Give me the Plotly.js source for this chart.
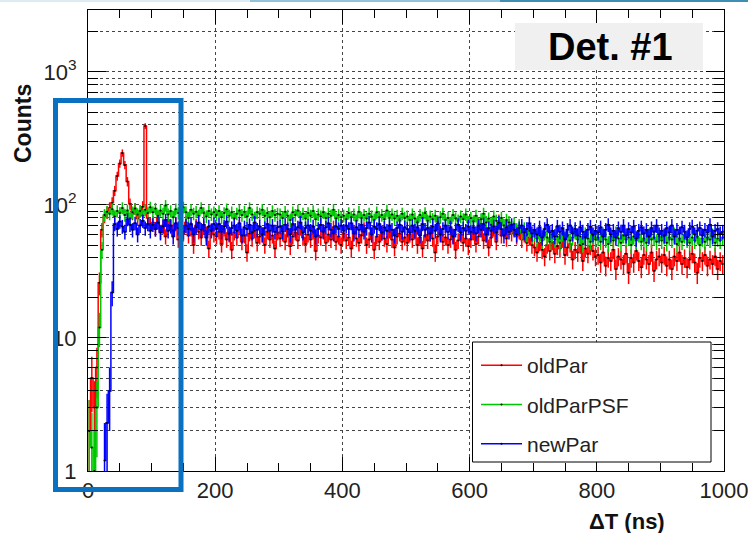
<!DOCTYPE html>
<html>
<head>
<meta charset="utf-8">
<script src="https://cdn.plot.ly/plotly-3.0.1.min.js"></script>
<style>html,body{margin:0;padding:0;background:#fff;}#chart{width:748px;height:533px;}</style>
</head>
<body>
<div id="chart"></div>
<script>
// Histogram bin width (ns); values are counts per bin
const binWidth = 4;
const seriesNames = ["oldPar", "oldParPSF", "newPar"];
const yTickVals = [1, 10, 100, 1000];
const yTickText = ["1", "10", "10<sup>2</sup>", "10<sup>3</sup>"];
const yMinorVals = [2,3,4,5,6,7,8,9,20,30,40,50,60,70,80,90,200,300,400,500,600,700,800,900,2000];

const oldPar = [
  2,5,3,6,26,65,82,88,95,104,128,165,205,246,200,150,102,86,94,79,90,97,392,80,72,
  74,66,81,63,70,58,77,69,64,72,55,68,61,74,59,66,50,70,63,57,68,61,47,65,60,
  58,63,51,66,55,60,46,62,57,69,53,59,44,61,56,64,52,58,60,50,63,55,59,47,62,
  56,61,53,65,49,58,62,54,67,57,51,60,55,63,45,59,57,64,52,60,55,68,53,58,50,
  61,54,57,47,63,56,52,59,66,50,55,60,46,58,53,62,56,51,64,55,48,58,61,53,57,
  52,60,55,63,50,57,47,59,54,61,56,44,58,62,53,57,50,55,59,46,54,60,52,56,49,
  55,62,51,58,72,54,60,48,57,66,53,76,59,64,56,70,61,67,58,63,55,60,52,57,50,
  48,44,52,46,41,50,45,53,43,49,47,55,42,48,51,39,46,44,50,38,47,43,49,45,41,
  42,37,44,35,40,38,46,33,41,39,36,43,31,40,37,45,38,34,42,39,36,44,32,39,41,
  37,42,35,39,33,41,38,44,36,40,34,39,43,37,31,40,38,42,35,39,36,41,33,38,36
];
const oldParPSF = [
  2,1.5,1,3,12,46,84,89,86,93,82,90,87,95,84,91,79,88,94,85,90,83,92,87,96,
  88,94,83,91,86,99,85,90,81,93,87,84,96,88,80,92,86,89,83,95,87,82,90,85,88,
  84,90,81,87,93,83,88,79,86,91,84,89,82,95,85,80,88,86,92,83,87,81,90,84,86,
  85,80,89,83,77,88,84,91,81,86,79,87,83,90,78,85,82,88,80,86,83,92,79,84,81,
  83,78,87,81,85,76,89,80,84,79,86,82,77,88,81,84,78,91,80,85,79,83,76,86,80,
  82,77,85,79,74,84,80,87,76,82,78,83,75,81,86,77,80,73,84,79,76,82,78,85,74,
  80,75,83,72,78,86,74,79,71,82,76,73,80,70,77,74,68,72,65,70,62,66,60,64,58,
  61,56,59,54,62,57,53,60,55,58,52,61,56,59,54,57,63,55,58,51,60,56,53,59,55,
  57,53,60,55,51,58,54,61,56,52,59,55,57,50,58,54,60,53,56,52,59,55,57,53,58,
  54,58,52,57,55,60,51,56,53,59,55,52,57,54,58,50,56,53,57,55,59,52,56,54,57
];
const newPar = [
  null,null,null,null,null,null,1.2,2.3,4,22,72,66,75,69,63,78,71,65,73,60,70,76,67,72,64,
  71,66,74,62,69,77,64,70,58,73,67,75,63,70,66,72,60,68,74,65,71,57,69,64,72,
  66,72,63,69,75,61,67,70,64,73,59,68,66,71,62,74,65,69,60,67,72,64,70,63,68,
  69,63,71,66,60,72,65,68,74,62,67,70,64,69,58,66,71,63,68,73,65,61,69,66,70,
  64,70,66,73,61,68,65,71,63,67,74,60,69,66,72,62,68,64,70,65,59,67,71,63,68,
  66,62,70,64,68,59,72,65,67,61,69,64,73,60,66,70,63,68,58,65,71,62,67,64,69,
  63,68,61,70,65,72,60,67,64,69,62,74,66,59,68,63,71,65,60,67,70,62,66,73,61,
  65,60,68,57,66,71,62,64,58,69,63,67,55,65,70,61,66,59,68,63,57,65,69,60,64,
  62,68,58,65,71,60,64,57,67,63,70,59,66,62,69,56,64,68,61,65,58,67,63,70,60,
  64,59,67,62,70,58,65,61,68,63,57,66,69,60,64,67,59,65,62,71,58,64,66,61,63
];

const binCenters = oldPar.map((_, i) => i * binWidth + binWidth / 2);
const colors = ["#ff0000", "#00c800", "#0000ff"];
const FONT = "Liberation Sans, Arial, Helvetica, sans-serif";

function makeTrace(vals, name, color, group) {
  return {
    x: binCenters, y: vals, name: name, type: "scatter", mode: "lines+markers",
    line: {color: color, width: 1.5, shape: "hvh"},
    marker: {color: "#000", size: 2},
    error_y: {type: "data", array: vals.map(v => v == null ? null : Math.sqrt(v)), color: color, thickness: 1.5, width: 0},
    connectgaps: false, legendgroup: group
  };
}

const traces = [
  makeTrace(oldPar, seriesNames[0], colors[0], "g1"),
  makeTrace(oldParPSF, seriesNames[1], colors[1], "g2"),
  makeTrace(newPar, seriesNames[2], colors[2], "g3")
];

// pixel -> paper helpers for decorations (plot area 88..724 x, 10..471 y)
const px = v => (v - 88) / 636;
const py = v => (471 - v) / 461;

const layout = {
  width: 748, height: 533,
  margin: {l: 88, r: 24, t: 10, b: 62},
  paper_bgcolor: "#fff", plot_bgcolor: "#fff",
  font: {family: FONT, color: "#111", size: 22},
  showlegend: true,
  legend: {
    x: px(476), y: py(345), xanchor: "left", yanchor: "top",
    bgcolor: "rgba(0,0,0,0)", borderwidth: 0,
    font: {family: FONT, size: 21, color: "#222"},
    itemwidth: 41, tracegroupgap: 9
  },
  xaxis: {
    range: [0, 1000], showline: true, linecolor: "#000", linewidth: 1, mirror: "ticks",
    ticks: "inside", ticklen: 14, tickcolor: "#000", dtick: 200, tick0: 0,
    showgrid: true, gridcolor: "#444", griddash: "dot", gridwidth: 1, zeroline: false,
    tickfont: {family: FONT, size: 22, color: "#222"}, ticklabelstandoff: 0, ticklabeloverflow: "allow",
    minor: {dtick: 50, ticks: "inside", ticklen: 8, tickcolor: "#000", showgrid: false}
  },
  yaxis: {
    type: "log", range: [0, 3.466], showline: true, linecolor: "#000", linewidth: 1, mirror: "ticks",
    ticks: "inside", ticklen: 18, tickcolor: "#000", tickmode: "array", tickvals: yTickVals, ticktext: yTickText,
    showgrid: true, gridcolor: "#444", griddash: "dot", gridwidth: 1, zeroline: false,
    tickfont: {family: FONT, size: 22, color: "#222"}, ticklabelstandoff: 6,
    minor: {tickmode: "array", tickvals: yMinorVals, ticks: "inside", ticklen: 10, tickcolor: "#000",
            showgrid: true, gridcolor: "#444", griddash: "dot", gridwidth: 1}
  },
  shapes: [
    {type: "line", xref: "paper", yref: "paper", x0: px(0), x1: px(250), y0: py(1), y1: py(1), line: {color: "#dcecf4", width: 2}, layer: "above"},
    {type: "line", xref: "paper", yref: "paper", x0: px(250), x1: px(500), y0: py(1), y1: py(1), line: {color: "#93c3da", width: 2}, layer: "above"},
    {type: "line", xref: "paper", yref: "paper", x0: px(500), x1: px(748), y0: py(1), y1: py(1), line: {color: "#3f8fb4", width: 2}, layer: "above"},
    {type: "rect", xref: "paper", yref: "paper", x0: px(515), x1: px(703), y0: py(70), y1: py(23), fillcolor: "#f0f0f0", line: {width: 0}, layer: "above"},
    {type: "rect", xref: "paper", yref: "paper", x0: px(472.5), x1: px(711), y0: py(462), y1: py(342), fillcolor: "#fff", line: {color: "#000", width: 1}, layer: "above"},
    {type: "rect", xref: "paper", yref: "paper", x0: px(55.5), x1: px(181), y0: py(489.5), y1: py(100.5), fillcolor: "rgba(0,0,0,0)", line: {color: "#0a70c0", width: 5}, layer: "above"}
  ],
  annotations: [
    {text: "<b>Det. #1</b>", xref: "paper", yref: "paper", x: px(610), y: py(47), xanchor: "center", yanchor: "middle",
     showarrow: false, font: {family: FONT, size: 38, color: "#000"}},
    {text: "<b>Counts</b>", xref: "paper", yref: "paper", x: px(23), y: py(124), xanchor: "center", yanchor: "middle",
     textangle: -90, showarrow: false, font: {family: FONT, size: 23, color: "#111"}},
    {text: "<b>ΔT (ns)</b>", xref: "paper", yref: "paper", x: px(667), y: py(521), xanchor: "right", yanchor: "middle",
     showarrow: false, font: {family: FONT, size: 22, color: "#111"}}
  ]
};

Plotly.newPlot("chart", traces, layout, {staticPlot: true, displayModeBar: false});
</script>
</body>
</html>
